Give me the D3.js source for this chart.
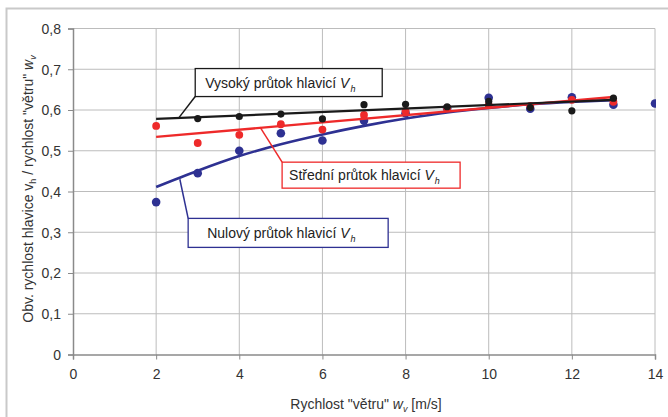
<!DOCTYPE html>
<html>
<head>
<meta charset="utf-8">
<script src="https://cdn.jsdelivr.net/npm/d3@7"></script>
<style>
  body { margin: 0; background: #fff; }
  svg { display: block; font-family: "Liberation Sans", Arial, sans-serif; }
  .tick text { fill: #333; font-size: 14px; }
</style>
</head>
<body>
<div id="chart"></div>
<script>
// wind speed values (x)
var windSpeed = [2, 3, 4, 5, 6, 7, 8, 9, 10, 11, 12, 13];

// measured points, ratio v_h / w_v (null = no visible point)
var highFlow   = [null, 0.579, 0.584, 0.590, 0.578, 0.613, 0.614, 0.608, 0.621, 0.606, 0.598, 0.629];
var mediumFlow = [0.561, 0.519, 0.539, 0.565, 0.552, 0.588, 0.597, 0.605, 0.612, 0.610, 0.625, 0.620];
var zeroFlow   = [0.374, 0.445, 0.500, 0.543, 0.525, 0.574, 0.592, 0.604, 0.630, 0.603, 0.631, 0.613];
var zeroFlowExtra = [[14, 0.616]];

// trend lines
var highTrend   = [[2, 0.578], [13, 0.625]];
var mediumTrend = [[2, 0.534], [13, 0.632]];
var zeroTrend   = [[2, 0.411], [3, 0.451], [4, 0.487], [5, 0.516], [6, 0.540], [7, 0.561],
                   [8, 0.579], [9, 0.594], [10, 0.605], [11, 0.614], [12, 0.620], [13, 0.624]];

var xTicks = [0, 2, 4, 6, 8, 10, 12, 14];
var yTicks = [0, 0.1, 0.2, 0.3, 0.4, 0.5, 0.6, 0.7, 0.8];

var width = 668,
    height = 417;
var margin = { left: 73, top: 28.5, right: 13, bottom: 62.5 };

var svg = d3.select("#chart")
            .append("svg")
            .attr("width", width)
            .attr("height", height);

// outer frame
svg.append("rect")
   .attr("x", 6.5).attr("y", 8.5)
   .attr("width", width + 10).attr("height", height + 10)
   .attr("fill", "none")
   .attr("stroke", "#c9c9c9")
   .attr("stroke-width", 2);

var x = d3.scaleLinear().domain([0, 14]).range([margin.left, width - margin.right]);
var y = d3.scaleLinear().domain([0, 0.8]).range([height - margin.bottom, margin.top]);

var czech = d3.formatLocale({ decimal: ",", thousands: " ", grouping: [3], currency: ["", " Kč"] });
var fmtY = czech.format(".1f");

// grid
svg.append("g").selectAll("line.gx")
   .data(xTicks.slice(1))
   .enter().append("line")
   .attr("x1", function (d) { return x(d); })
   .attr("x2", function (d) { return x(d); })
   .attr("y1", y(0)).attr("y2", y(0.8))
   .attr("stroke", "#bcbcbc").attr("stroke-width", 1);

svg.append("g").selectAll("line.gy")
   .data(yTicks.slice(1))
   .enter().append("line")
   .attr("x1", x(0)).attr("x2", x(14))
   .attr("y1", function (d) { return y(d); })
   .attr("y2", function (d) { return y(d); })
   .attr("stroke", "#bcbcbc").attr("stroke-width", 1);

// axes
var xAxis = svg.append("g")
   .attr("transform", "translate(0," + y(0) + ")")
   .call(d3.axisBottom(x).tickValues(xTicks).tickSize(5).tickPadding(10).tickFormat(d3.format("d")));
var yAxis = svg.append("g")
   .attr("transform", "translate(" + x(0) + ",0)")
   .call(d3.axisLeft(y).tickValues(yTicks).tickSize(5).tickPadding(7)
         .tickFormat(function (d) { return d === 0 ? "0" : fmtY(d); }));
[xAxis, yAxis].forEach(function (a) {
  a.select(".domain").attr("stroke", "#8a8a8a").attr("stroke-width", 1.5);
  a.selectAll(".tick line").attr("stroke", "#8a8a8a");
  a.selectAll(".tick text").attr("font-family", "Liberation Sans, Arial, sans-serif");
});
yAxis.selectAll(".tick text").attr("dy", "0.35em");

// axis titles
var xt = svg.append("text")
   .attr("x", 366).attr("y", 409)
   .attr("text-anchor", "middle")
   .attr("fill", "#333").attr("font-size", 14);
xt.append("tspan").text("Rychlost \"větru\" ");
xt.append("tspan").attr("font-style", "italic").text("w");
xt.append("tspan").attr("font-size", 9).attr("font-style", "italic").attr("dy", 3).text("v");
xt.append("tspan").attr("dy", -3).text("  [m/s]");

var yt = svg.append("text")
   .attr("transform", "translate(33," + 189 + ") rotate(-90)")
   .attr("text-anchor", "middle")
   .attr("fill", "#333").attr("font-size", 14);
yt.append("tspan").text("Obv. rychlost hlavice v");
yt.append("tspan").attr("font-size", 9).attr("dy", 3).text("h");
yt.append("tspan").attr("dy", -3).text(" / rychlost \"větru\" ");
yt.append("tspan").attr("font-style", "italic").text("w");
yt.append("tspan").attr("font-size", 9).attr("font-style", "italic").attr("dy", 3).text("v");

// clip to plot area
svg.append("clipPath").attr("id", "plotClip")
   .append("rect")
   .attr("x", x(0)).attr("y", y(0.8))
   .attr("width", x(14) - x(0) + 1).attr("height", y(0) - y(0.8));

var plot = svg.append("g").attr("clip-path", "url(#plotClip)");

var lineGen = d3.line()
   .x(function (d) { return x(d[0]); })
   .y(function (d) { return y(d[1]); })
   .curve(d3.curveMonotoneX);

var series = [
  { name: "zero",   vals: zeroFlow,   extra: zeroFlowExtra, trend: zeroTrend,   color: "#2e3192", r: 4.3, w: 2.6 },
  { name: "medium", vals: mediumFlow, extra: [],            trend: mediumTrend, color: "#ee2a2a", r: 3.9, w: 2.4 },
  { name: "high",   vals: highFlow,   extra: [],            trend: highTrend,   color: "#1a1a1a", r: 3.6, w: 2.2 }
];

series.forEach(function (s) {
  var pts = windSpeed.map(function (v, i) { return [v, s.vals[i]]; })
                     .filter(function (d) { return d[1] != null; })
                     .concat(s.extra);
  plot.append("g").selectAll("circle")
      .data(pts)
      .enter().append("circle")
      .attr("cx", function (d) { return x(d[0]); })
      .attr("cy", function (d) { return y(d[1]); })
      .attr("r", s.r)
      .attr("fill", s.color);
  plot.append("path")
      .datum(s.trend)
      .attr("d", lineGen)
      .attr("fill", "none")
      .attr("stroke", s.color)
      .attr("stroke-width", s.w);
});

// callouts: anchor on trend line (data units), box corner (data units)
var callouts = [
  { label: "Vysoký průtok hlavicí ", color: "#1a1a1a", ax: 2.54, ay: 0.580, bx: 2.94, by: 0.633, bw: 187, bh: 28, pad: 10, corner: "bottom" },
  { label: "Střední průtok hlavicí ", color: "#ee2a2a", ax: 4.50, ay: 0.558, bx: 5.03, by: 0.472, bw: 178, bh: 26, pad: 7, corner: "top" },
  { label: "Nulový průtok hlavicí ", color: "#2e3192", ax: 2.57, ay: 0.430, bx: 2.77, by: 0.334, bw: 200, bh: 29, pad: 19, corner: "top" }
];

callouts.forEach(function (c) {
  var bx = x(c.bx), by = y(c.by);
  var top = c.corner === "bottom" ? by - c.bh : by;
  svg.append("line")
     .attr("x1", x(c.ax)).attr("y1", y(c.ay))
     .attr("x2", bx).attr("y2", by)
     .attr("stroke", c.color).attr("stroke-width", 1.5);
  svg.append("rect")
     .attr("x", bx).attr("y", top)
     .attr("width", c.bw).attr("height", c.bh)
     .attr("fill", "#fff")
     .attr("stroke", c.color).attr("stroke-width", 1.3);
  var t = svg.append("text")
     .attr("x", bx + c.pad).attr("y", top + c.bh / 2 + 5)
     .attr("fill", "#222").attr("font-size", 14);
  t.append("tspan").text(c.label);
  t.append("tspan").attr("font-style", "italic").text("V");
  t.append("tspan").attr("font-style", "italic").attr("font-size", 9).attr("dy", 4).attr("dx", 1).text("h");
});
</script>
</body>
</html>
